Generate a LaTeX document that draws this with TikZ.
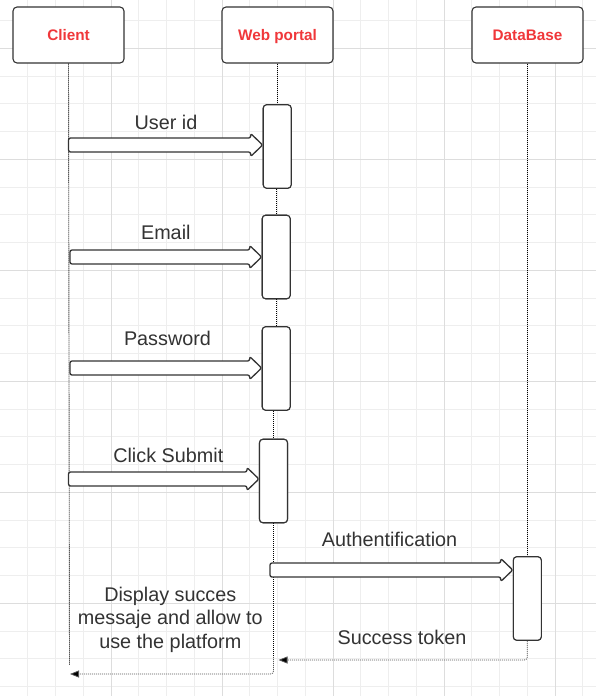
\documentclass[tikz,border=0pt]{standalone}
\usepackage{fontspec}
\setmainfont{Liberation Sans}
\usetikzlibrary{calc,arrows.meta}
\definecolor{ink}{HTML}{333333}
\definecolor{hdr}{HTML}{F0373A}
\definecolor{gmin}{HTML}{EEEEEE}
\definecolor{gmaj}{HTML}{DDDDDD}
\definecolor{retc}{HTML}{555555}
\newcommand\fatarrow[2]{%
  \draw[fatar] let \p1=(#1), \p2=(#2) in
    (\x1,\y1+7pt) -- (\x2-12pt,\y1+7pt) -- (\x2-12pt,\y1+11.5pt) -- (\x2,\y1)
    -- (\x2-12pt,\y1-11.5pt) -- (\x2-12pt,\y1-7pt) -- (\x1,\y1-7pt) -- cycle;}
\begin{document}
\begin{tikzpicture}[x=1pt,y=-1pt,
  headbox/.style={draw=ink, line width=1.1pt, rounded corners=4pt, fill=white,
    minimum width=111pt, minimum height=56pt, text=hdr, inner sep=0pt,
    text height=11pt, text depth=0pt,
    font=\fontsize{15.3}{18}\selectfont\bfseries},
  actbox/.style={draw=ink, line width=1.1pt, rounded corners=3.5pt, fill=white,
    minimum width=28pt, minimum height=83.5pt, inner sep=0pt},
  lbl/.style={text=ink, inner sep=0pt, anchor=base, font=\fontsize{19.8}{23.6}\selectfont},
  life/.style={black, line width=0.9pt, dash pattern=on 1pt off 1pt},
  ret/.style={retc, line width=0.8pt, dash pattern=on 1pt off 1pt, rounded corners=3pt,
    -{Triangle[length=9pt,width=7pt,fill=black]}},
  fatar/.style={draw=ink, fill=white, line width=1.3pt, rounded corners=2pt, line join=round}
]
\useasboundingbox (0,0) rectangle (596,696);
\fill[white] (0,0) rectangle (596,696);
% grid
\foreach \k in {1,...,21} \draw[gmin, line width=0.8pt] ({27.75*\k},0) -- ({27.75*\k},696);
\foreach \k in {0,...,24} \draw[gmin, line width=0.8pt] (0,{20.55+27.75*\k}) -- (596,{20.55+27.75*\k});
\foreach \k in {1,...,5} \draw[gmaj, line width=0.8pt] ({111*\k},0) -- ({111*\k},696);
\foreach \k in {0,...,5} \draw[gmaj, line width=0.8pt] (0,{48.3+111*\k}) -- (596,{48.3+111*\k});

% headers
\node[headbox] (client) at (68.5,35) {Client};
\node[headbox] (web) at (277.5,35) {Web portal};
\node[headbox] (db) at (527.5,35) {DataBase};

% activations
\node[actbox] (a1) at (277.2,146.5) {};
\node[actbox] (a2) at (276.2,257) {};
\node[actbox] (a3) at (276.2,368.5) {};
\node[actbox] (a4) at (273.5,481) {};
\node[actbox] (d1) at (527.3,598.5) {};

% endpoints
\coordinate (cend) at (69.5,665);
\coordinate (wl) at (273.5,657);
\coordinate (wend) at (278.5,660);
\coordinate (cret) at (70,674);
\coordinate (c1) at (68.5,145);
\coordinate (c2) at (70,257);
\coordinate (c3) at (70,368);
\coordinate (c4) at (68.5,479);
\coordinate (w5) at (270,570);

% lifelines
\draw[life] (client.south) -- (cend);
\draw[life] (a1.north |- web.south) -- (a1.north);
\draw[life] (a2.north |- a1.south) -- (a2.north);
\draw[life] (a3.north |- a2.south) -- (a3.north);
\draw[life] (a4.north |- a3.south) -- (a4.north);
\draw[life] (a4.south) -- (wl);
\draw[life] (d1.north |- db.south) -- (d1.north);

% activation boxes on top of lifelines
\node[actbox] at (a1) {};
\node[actbox] at (a2) {};
\node[actbox] at (a3) {};
\node[actbox] at (a4) {};
\node[actbox] at (d1) {};

% messages
\fatarrow{c1}{a1.west}
\fatarrow{c2}{a2.west}
\fatarrow{c3}{a3.west}
\fatarrow{c4}{a4.west}
\fatarrow{w5}{d1.west}

\node[lbl] (l1) at (166,129.3) {User id};
\node[lbl] (l2) at (165.8,239.3) {Email};
\node[lbl] (l3) at (167.5,345.7) {Password};
\node[lbl] (l4) at (168.3,462.7) {Click Submit};
\node[lbl] (l5) at (389.5,546.7) {Authentification};
\node[lbl] (l6) at (402,644) {Success token};
\node[lbl, anchor=center, align=center] (l7) at (170.3,619.5) {Display succes\\messaje and allow to\\use the platform};

% returns
\draw[ret] (d1.south) |- (wend);
\draw[ret] (wl) |- (cret);
\end{tikzpicture}
\end{document}
